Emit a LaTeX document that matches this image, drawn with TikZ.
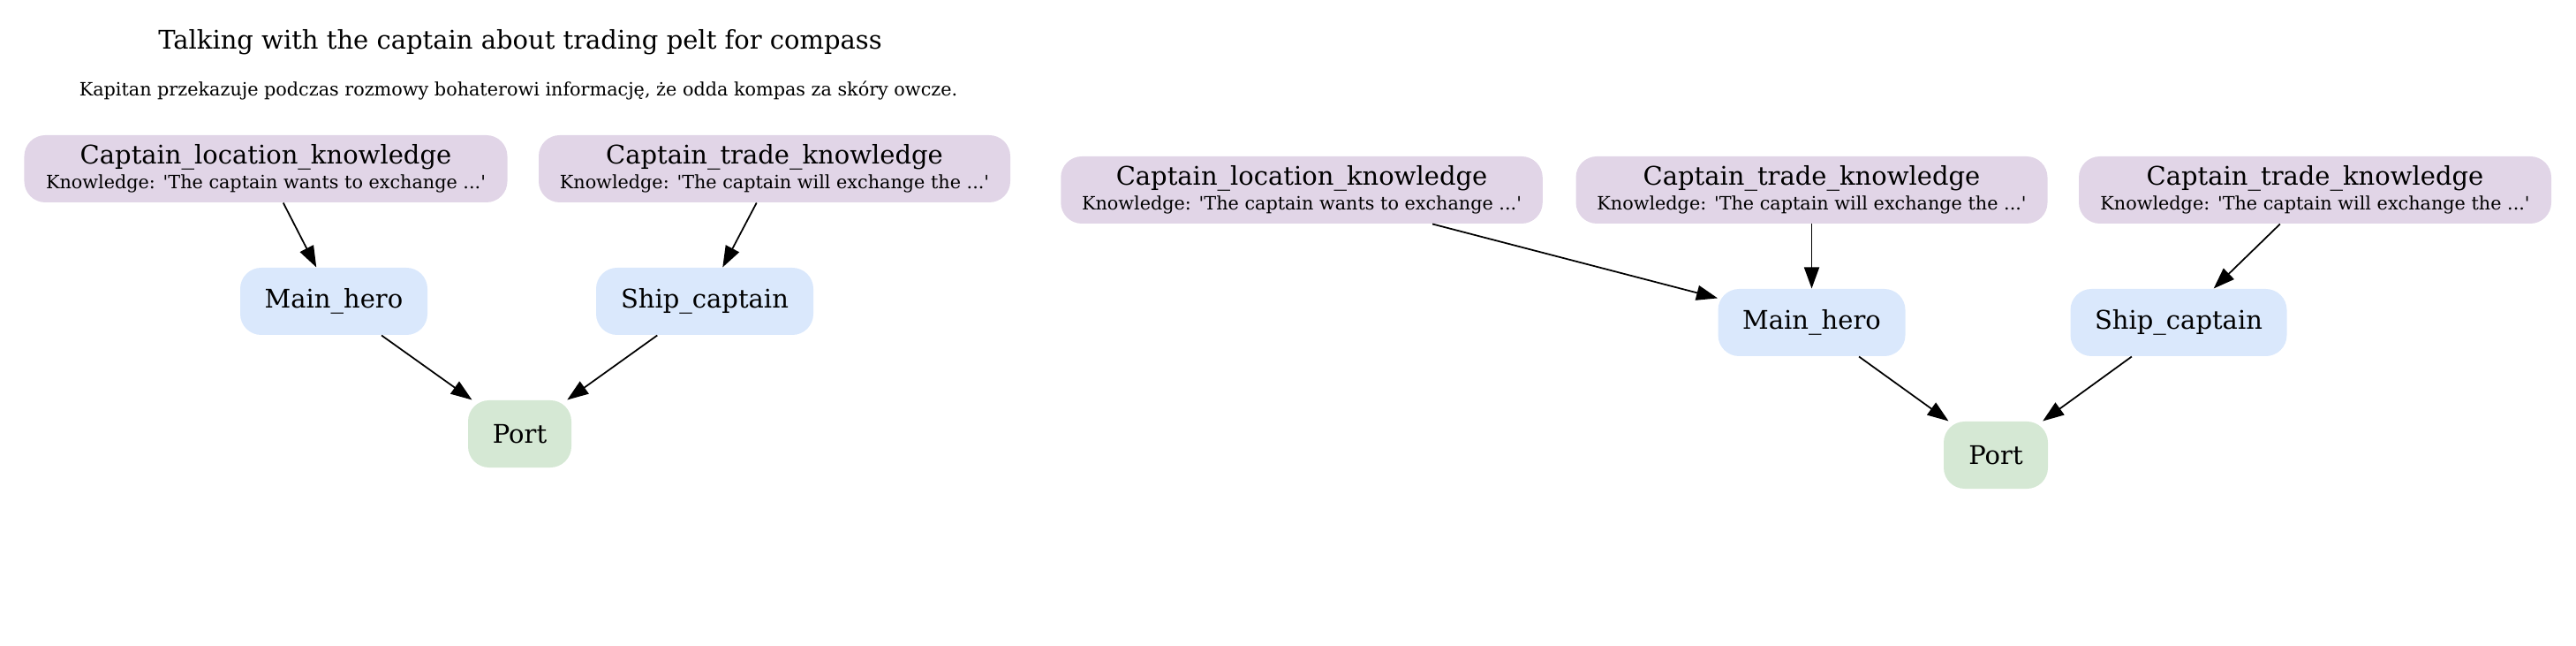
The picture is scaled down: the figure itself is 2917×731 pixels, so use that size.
\documentclass[tikz,border=0pt]{standalone}
\usepackage{fontspec}
\setmainfont{DejaVu Serif}
\usepackage{tikz}
\usetikzlibrary{arrows.meta}
\definecolor{knowfill}{HTML}{E1D5E7}
\definecolor{charfill}{HTML}{DAE8FC}
\definecolor{placefill}{HTML}{D5E8D4}

\begin{document}
\begin{tikzpicture}[x=0.4pt, y=-0.4pt,
        box/.style={rounded corners=9.5pt, minimum height=30.4pt, inner sep=0pt,
            align=center, font=\fontsize{11.6}{13.6}\selectfont},
        know/.style={box, fill=knowfill},
        char/.style={box, fill=charfill},
        place/.style={box, fill=placefill},
        small/.style={font=\fontsize{8.3}{10}\selectfont},
        link/.style={-{Triangle[length=9.6pt, width=6.8pt]}, line width=0.7pt}]
            \useasboundingbox (0,0) rectangle (2917,731);
            % left graph
            \node[font=\fontsize{11.6}{13.6}\selectfont] (title) at (589,48) {Talking with the captain about trading pelt for compass};
            \node[small] (subtitle) at (587,103) {Kapitan przekazuje podczas rozmowy bohaterowi informację, że odda kompas za skóry owcze.};
            \node[know, minimum width=218.8pt] (clkA) at (301,191) {Captain\_location\_knowledge\\[-2.4pt]{\fontsize{8.3}{10}\selectfont Knowledge: \textquotesingle The captain wants to exchange ...\textquotesingle}};
            \node[know, minimum width=213.6pt] (ctkA) at (877,191) {Captain\_trade\_knowledge\\[-2.4pt]{\fontsize{8.3}{10}\selectfont Knowledge: \textquotesingle The captain will exchange the ...\textquotesingle}};
            \node[char, minimum width=84.8pt] (heroA) at (378,341) {Main\_hero};
            \node[char, minimum width=98.4pt] (captA) at (798,341) {Ship\_captain};
            \node[place, minimum width=46.8pt] (portA) at (588.5,491) {Port};
            \draw[link] (clkA) -- (heroA);
            \draw[link] (ctkA) -- (captA);
            \draw[link] (heroA) -- (portA);
            \draw[link] (captA) -- (portA);
            % right graph
            \node[know, minimum width=218.2pt] (clkB) at (1474,215) {Captain\_location\_knowledge\\[-2.4pt]{\fontsize{8.3}{10}\selectfont Knowledge: \textquotesingle The captain wants to exchange ...\textquotesingle}};
            \node[know, minimum width=213.6pt] (ctkB) at (2051.5,215) {Captain\_trade\_knowledge\\[-2.4pt]{\fontsize{8.3}{10}\selectfont Knowledge: \textquotesingle The captain will exchange the ...\textquotesingle}};
            \node[know, minimum width=214pt] (ctkC) at (2621.5,215) {Captain\_trade\_knowledge\\[-2.4pt]{\fontsize{8.3}{10}\selectfont Knowledge: \textquotesingle The captain will exchange the ...\textquotesingle}};
            \node[char, minimum width=84.8pt] (heroB) at (2051.5,365) {Main\_hero};
            \node[char, minimum width=98pt] (captB) at (2467,365) {Ship\_captain};
            \node[place, minimum width=47.2pt] (portB) at (2260,515) {Port};
            \draw[link] (clkB) -- (heroB);
            \draw[link] (ctkB) -- (heroB);
            \draw[link] (ctkC) -- (captB);
            \draw[link] (heroB) -- (portB);
            \draw[link] (captB) -- (portB);
\end{tikzpicture}
\end{document}
